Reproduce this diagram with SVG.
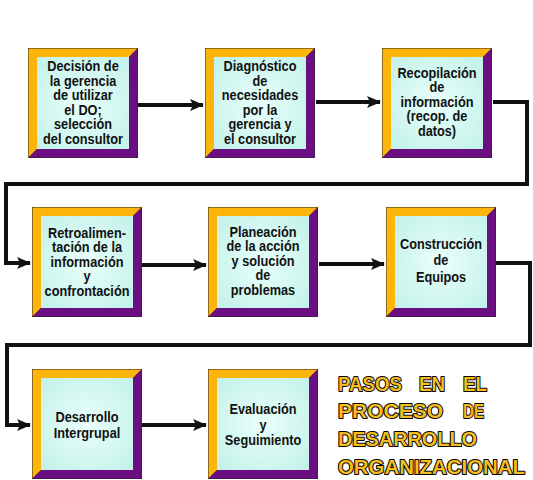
<svg xmlns="http://www.w3.org/2000/svg" xmlns:xlink="http://www.w3.org/1999/xlink" width="533" height="480" viewBox="0 0 533 480">
<style>
.lbl{font-family:"Liberation Sans",Arial,sans-serif;font-weight:bold;font-size:14px;fill:#111;text-anchor:middle}
.ttl{font-family:"Liberation Sans",Arial,sans-serif;font-weight:bold;font-size:20px;fill:#f4be22;stroke:#000;stroke-width:2px;paint-order:stroke;stroke-linejoin:round}
.con{fill:none;stroke:#111;stroke-width:4;stroke-linejoin:miter}
.gold{fill:#fdb50a}
.purp{fill:#6b0e82}
</style>
<defs>
<radialGradient id="inner" cx="50%" cy="50%" r="65%">
<stop offset="0" stop-color="#eafffb"/>
<stop offset="1" stop-color="#c4f2ea"/>
</radialGradient>
<marker id="ah" markerUnits="userSpaceOnUse" markerWidth="14" markerHeight="14" viewBox="0 0 14 14" refX="13" refY="7" orient="auto">
<path d="M0,1 L14,7 L0,13 L3,7 Z" fill="#111"/>
</marker>
<g id="frame">
<rect x="0" y="0" width="110" height="110" fill="#222"/>
<polygon class="gold" points="0.5,0.5 109.5,0.5 101,9 9,9 9,101 0.5,109.5"/>
<polygon class="purp" points="109.5,0.5 109.5,109.5 0.5,109.5 9,101 101,101 101,9"/>
<rect x="9" y="9" width="92" height="92" fill="url(#inner)"/>
</g>
</defs>
<rect width="533" height="480" fill="#fff"/>
<g id="connectors">
<path class="con" d="M138,105 H203" marker-end="url(#ah)"/>
<path class="con" d="M316,102 H380" marker-end="url(#ah)"/>
<path class="con" d="M493,102 H527 V184 H6 V263 H30" marker-end="url(#ah)"/>
<path class="con" d="M142,265 H206" marker-end="url(#ah)"/>
<path class="con" d="M319,264 H384" marker-end="url(#ah)"/>
<path class="con" d="M496,263 H530 V345 H7 V425 H30" marker-end="url(#ah)"/>
<path class="con" d="M142,425 H206" marker-end="url(#ah)"/>
</g>
<g id="n1">
<use xlink:href="#frame" x="28" y="48"/>
<text class="lbl" transform="translate(83,0) scale(0.91,1)"><tspan x="0" y="71.5">Decisión de</tspan><tspan x="0" y="86">la gerencia</tspan><tspan x="0" y="100.5">de utilizar</tspan><tspan x="0" y="115">el DO;</tspan><tspan x="0" y="129.5">selección</tspan><tspan x="0" y="144">del consultor</tspan></text>
</g>
<g id="n2">
<use xlink:href="#frame" x="205" y="48"/>
<text class="lbl" transform="translate(260,0) scale(0.91,1)"><tspan x="0" y="71.5">Diagnóstico</tspan><tspan x="0" y="86">de</tspan><tspan x="0" y="100.5">necesidades</tspan><tspan x="0" y="115">por la</tspan><tspan x="0" y="129.5">gerencia y</tspan><tspan x="0" y="144">el consultor</tspan></text>
</g>
<g id="n3">
<use xlink:href="#frame" x="382" y="48"/>
<text class="lbl" transform="translate(437,0) scale(0.91,1)"><tspan x="0" y="78">Recopilación</tspan><tspan x="0" y="92.5">de</tspan><tspan x="0" y="107">información</tspan><tspan x="0" y="121.5">(recop. de</tspan><tspan x="0" y="136">datos)</tspan></text>
</g>
<g id="n4">
<use xlink:href="#frame" x="32" y="207"/>
<text class="lbl" transform="translate(87,0) scale(0.91,1)"><tspan x="0" y="238">Retroalimen-</tspan><tspan x="0" y="252.5">tación de la</tspan><tspan x="0" y="267">información</tspan><tspan x="0" y="281.5">y</tspan><tspan x="0" y="296">confrontación</tspan></text>
</g>
<g id="n5">
<use xlink:href="#frame" x="208" y="207"/>
<text class="lbl" transform="translate(263,0) scale(0.91,1)"><tspan x="0" y="237">Planeación</tspan><tspan x="0" y="251.5">de la acción</tspan><tspan x="0" y="266">y solución</tspan><tspan x="0" y="280.5">de</tspan><tspan x="0" y="295">problemas</tspan></text>
</g>
<g id="n6">
<use xlink:href="#frame" x="386" y="207"/>
<text class="lbl" transform="translate(441,0) scale(0.91,1)"><tspan x="0" y="249">Construcción</tspan><tspan x="0" y="265.5">de</tspan><tspan x="0" y="282">Equipos</tspan></text>
</g>
<g id="n7">
<use xlink:href="#frame" x="32" y="369"/>
<text class="lbl" transform="translate(87,0) scale(0.91,1)"><tspan x="0" y="422">Desarrollo</tspan><tspan x="0" y="438.5">Intergrupal</tspan></text>
</g>
<g id="n8">
<use xlink:href="#frame" x="208" y="369"/>
<text class="lbl" transform="translate(263,0) scale(0.91,1)"><tspan x="0" y="414.5">Evaluación</tspan><tspan x="0" y="430">y</tspan><tspan x="0" y="445.5">Seguimiento</tspan></text>
</g>
<g id="title">
<text class="ttl" x="338" y="391" textLength="64" lengthAdjust="spacingAndGlyphs">PASOS</text>
<text class="ttl" x="419" y="391" textLength="26" lengthAdjust="spacingAndGlyphs">EN</text>
<text class="ttl" x="463" y="391" textLength="24" lengthAdjust="spacingAndGlyphs">EL</text>
<text class="ttl" x="338" y="418" textLength="105" lengthAdjust="spacingAndGlyphs">PROCESO</text>
<text class="ttl" x="463" y="418" textLength="21" lengthAdjust="spacingAndGlyphs">DE</text>
<text class="ttl" x="338" y="446" textLength="139" lengthAdjust="spacingAndGlyphs">DESARROLLO</text>
<text class="ttl" x="338" y="474" textLength="187" lengthAdjust="spacingAndGlyphs">ORGANIZACIONAL</text>
</g>
</svg>
